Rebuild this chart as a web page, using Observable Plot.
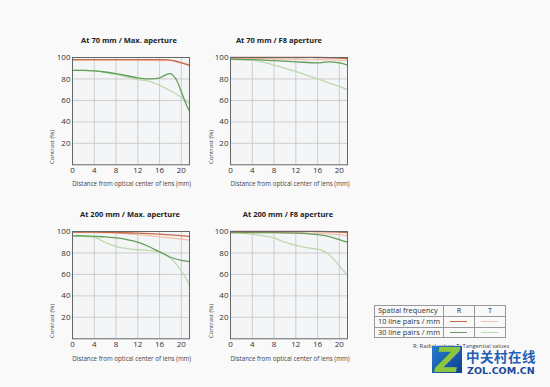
<!DOCTYPE html>
<html>
<head>
<meta charset="utf-8">
<script src="https://cdn.jsdelivr.net/npm/d3@7"></script>
<script src="https://cdn.jsdelivr.net/npm/@observablehq/plot@0.6"></script>
<style>
  html, body { margin:0; padding:0; background:#f9f9fa; }
  body { width:550px; height:387px; position:relative; overflow:hidden; font-family:"Open Sans", sans-serif; color:#333; }
  .pnl { position:absolute; }
  .title { position:absolute; transform:translate(-50%,-50%); font-size:7.5px; font-weight:700; color:#222; white-space:nowrap; }
  .xt { position:absolute; transform:translate(-50%,-50%); font-size:6.2px; color:#444; white-space:nowrap; }
  .yt { position:absolute; transform:translate(-50%,-50%) rotate(-90deg); font-size:6px; color:#444; white-space:nowrap; }
  table.lg { position:absolute; left:374px; top:305px; border-collapse:collapse; font-size:7.4px; color:#333; }
  table.lg td { border:1px solid #999; height:9.8px; padding:0 3px; line-height:9.5px; }
  .sw { display:block; height:0; width:17px; margin:0 auto; border-top:1.3px solid; }
  .cap { position:absolute; left:413px; top:342px; font-size:5.8px; color:#444; white-space:nowrap; }
</style>
</head>
<body>
<script>
// ---------- data ----------
const panelTitles = ["At 70 mm / Max. aperture", "At 70 mm / F8 aperture", "At 200 mm / Max. aperture", "At 200 mm / F8 aperture"];
const xTicks = [0, 4, 8, 12, 16, 20];
const yTicks = [20, 40, 60, 80, 100];
const xLabel = "Distance from optical center of lens (mm)";
const yLabel = "Contrast (%)";
const seriesNames = ["10 line pairs / mm R", "10 line pairs / mm T", "30 line pairs / mm R", "30 line pairs / mm T"];
const seriesColors = ["#c46a48", "#f2c2aa", "#62a05a", "#bcd9b0"];

// Panel 1: 70 mm, max aperture
const p1_xR10 = [0, 4, 8, 12, 16, 17, 18, 19, 20, 21, 21.5];
const p1_R10  = [98, 98, 98, 98, 98, 98, 97.5, 96.5, 95, 93.5, 92.5];
const p1_xT10 = [0, 4, 8, 12, 16, 18, 19, 20, 21, 21.5];
const p1_T10  = [97.5, 97.5, 97.5, 97.5, 97, 97, 96.5, 95.5, 94, 93];
const p1_xR30 = [0, 2, 4, 6, 8, 10, 12, 14, 16, 17, 18, 19, 20, 21, 21.5];
const p1_R30  = [88, 88, 87.5, 86.5, 85, 83, 81, 80, 81, 83.5, 85, 80, 68, 55, 50];
const p1_xT30 = [0, 2, 4, 6, 8, 10, 12, 14, 16, 18, 20, 21.5];
const p1_T30  = [88, 88, 87.5, 86, 84, 82, 79.5, 78, 74, 69, 63, 57];

// Panel 2: 70 mm, F8
const p2_xR10 = [0, 4, 8, 12, 16, 20, 21.5];
const p2_R10  = [100, 100, 100, 100, 100, 99.5, 99];
const p2_xT10 = [0, 4, 8, 12, 16, 20, 21.5];
const p2_T10  = [99, 99, 98.5, 98, 98, 97.5, 97];
const p2_xR30 = [0, 4, 8, 12, 16, 18, 20, 21.5];
const p2_R30  = [98.5, 98, 97, 96, 95, 96, 95, 93];
const p2_xT30 = [0, 4, 8, 12, 16, 20, 21.5];
const p2_T30  = [98, 97.5, 93, 87, 80, 73, 70];

// Panel 3: 200 mm, max aperture
const p3_xR10 = [0, 4, 8, 12, 16, 20, 21.5];
const p3_R10  = [99.5, 99.5, 99, 98.5, 97.5, 96, 95.5];
const p3_xT10 = [0, 4, 8, 12, 16, 20, 21.5];
const p3_T10  = [99, 99, 98.5, 97, 95, 93, 92];
const p3_xR30 = [0, 2, 4, 6, 8, 10, 12, 14, 16, 18, 20, 21.5];
const p3_R30  = [96, 96, 95.5, 95, 94, 92.5, 90, 86, 81, 76, 73, 72];
const p3_xT30 = [0, 2, 4, 6, 8, 10, 12, 14, 16, 17, 18, 19, 20, 21, 21.5];
const p3_T30  = [96, 95.5, 94.5, 90, 86, 84, 83, 82.5, 81, 79, 75, 70, 63, 55, 50];

// Panel 4: 200 mm, F8
const p4_xR10 = [0, 4, 8, 12, 16, 20, 21.5];
const p4_R10  = [100, 100, 100, 100, 100, 99.5, 99];
const p4_xT10 = [0, 4, 8, 12, 16, 20, 21.5];
const p4_T10  = [99, 99, 99, 98.5, 98, 97, 96];
const p4_xR30 = [0, 4, 8, 12, 14, 16, 18, 20, 21.5];
const p4_R30  = [99, 99, 99, 98.5, 98, 97, 95.5, 92.5, 90];
const p4_xT30 = [0, 2, 4, 6, 8, 10, 12, 14, 16, 17, 18, 19, 20, 21, 21.5];
const p4_T30  = [99, 98.5, 97.5, 96, 94, 90, 87, 85, 83.5, 82, 79, 74, 68, 62, 59];

const legendRows = ["10 line pairs / mm", "30 line pairs / mm"];
const legendHeader = ["Spatial frequency", "R", "T"];
const captionText = "R: Radial values   T: Tangential values";

// ---------- layout ----------
const panelsData = [
  [[p1_xR10, p1_R10], [p1_xT10, p1_T10], [p1_xR30, p1_R30], [p1_xT30, p1_T30]],
  [[p2_xR10, p2_R10], [p2_xT10, p2_T10], [p2_xR30, p2_R30], [p2_xT30, p2_T30]],
  [[p3_xR10, p3_R10], [p3_xT10, p3_T10], [p3_xR30, p3_R30], [p3_xT30, p3_T30]],
  [[p4_xR10, p4_R10], [p4_xT10, p4_T10], [p4_xR30, p4_R30], [p4_xT30, p4_T30]]
];
const panelPos = [[31.7, 44.7], [190, 44.7], [31.7, 219], [190, 219]];
const titlePos = [[129, 40], [279, 40], [130, 214], [288, 214]];
const drawOrder = [3, 1, 2, 0];

function makeRows(pd) {
  const rows = [];
  drawOrder.forEach(si => {
    const [xs, ys] = pd[si];
    xs.forEach((x, i) => rows.push({s: seriesNames[si], x, y: ys[i]}));
  });
  return rows;
}

panelsData.forEach((pd, pi) => {
  const rows = makeRows(pd);
  const chart = Plot.plot({
    width: 175, height: 160,
    marginLeft: 40, marginRight: 18, marginTop: 12, marginBottom: 40.7,
    style: {fontSize: "8px", fontFamily: "Open Sans, sans-serif", color: "#333", background: "transparent", overflow: "visible"},
    x: {domain: [0, 21.5]},
    y: {domain: [0, 100]},
    color: {domain: seriesNames, range: seriesColors},
    marks: [
      Plot.frame({fill: "#f4f5f7"}),
      Plot.gridX(xTicks, {stroke: "#c4c4c4", strokeOpacity: 1, strokeWidth: 0.8}),
      Plot.gridY(yTicks, {stroke: "#c4c4c4", strokeOpacity: 1, strokeWidth: 0.8}),
      ...drawOrder.map(si => Plot.line(rows.filter(r => r.s === seriesNames[si]), {
        x: "x", y: "y", stroke: "s", fill: "none", strokeWidth: 1.3, curve: "catmull-rom"
      })),
      Plot.frame({stroke: "#666", strokeWidth: 1}),
      Plot.axisX({ticks: xTicks, tickSize: 0, tickPadding: 3, label: null, fill: "#333"}),
      Plot.axisY({ticks: yTicks, tickSize: 0, tickPadding: 2, label: null, fill: "#333"})
    ]
  });
  chart.classList.add("pnl");
  chart.style.left = panelPos[pi][0] + "px";
  chart.style.top = panelPos[pi][1] + "px";
  document.body.appendChild(chart);

  const t = document.createElement("div");
  t.className = "title";
  t.textContent = panelTitles[pi];
  t.style.left = titlePos[pi][0] + "px";
  t.style.top = titlePos[pi][1] + "px";
  document.body.appendChild(t);

  const left = panelPos[pi][0] + 40, top = panelPos[pi][1] + 12;
  const xt = document.createElement("div");
  xt.className = "xt";
  xt.textContent = xLabel;
  xt.style.left = (left + 60) + "px";
  xt.style.top = (top + 126.5) + "px";
  document.body.appendChild(xt);

  const yt = document.createElement("div");
  yt.className = "yt";
  yt.textContent = yLabel;
  yt.style.left = (left - 19.5) + "px";
  yt.style.top = (top + 90) + "px";
  document.body.appendChild(yt);
});

// ---------- legend table ----------
const tbl = document.createElement("table");
tbl.className = "lg";
const hr = tbl.insertRow();
legendHeader.forEach((h, i) => {
  const c = hr.insertCell();
  c.textContent = h;
  if (i > 0) { c.style.textAlign = "center"; c.style.width = "24px"; }
});
legendRows.forEach((name, ri) => {
  const r = tbl.insertRow();
  r.insertCell().textContent = name;
  [0, 1].forEach(k => {
    const c = r.insertCell();
    const sw = document.createElement("span");
    sw.className = "sw";
    sw.style.borderTopColor = seriesColors[ri * 2 + k];
    c.appendChild(sw);
  });
});
document.body.appendChild(tbl);

const cap = document.createElement("div");
cap.className = "cap";
cap.textContent = captionText;
document.body.appendChild(cap);

// ---------- watermark ----------
const logo = document.createElement("div");
logo.style.cssText = "position:absolute;left:432px;top:346px;width:30px;height:27px;background:linear-gradient(135deg,#2a7bd0,#0d3f8f);";
const z = document.createElement("div");
z.textContent = "Z";
z.style.cssText = "position:absolute;left:3px;top:-6px;font:italic 900 34px 'DejaVu Sans',sans-serif;color:#8cc63f;line-height:40px;";
logo.appendChild(z);
document.body.appendChild(logo);
const wm1 = document.createElement("div");
wm1.textContent = "中关村在线";
wm1.style.cssText = "position:absolute;left:466px;top:348px;font:700 13.5px 'Noto Sans CJK SC',sans-serif;color:#1f5fb5;line-height:16px;letter-spacing:0.5px;";
document.body.appendChild(wm1);
const wm2 = document.createElement("div");
wm2.textContent = "ZOL.COM.CN";
wm2.style.cssText = "position:absolute;left:467px;top:365px;font:700 9.5px 'DejaVu Sans',sans-serif;color:#1a4a98;line-height:11px;";
document.body.appendChild(wm2);
</script>
</body>
</html>
